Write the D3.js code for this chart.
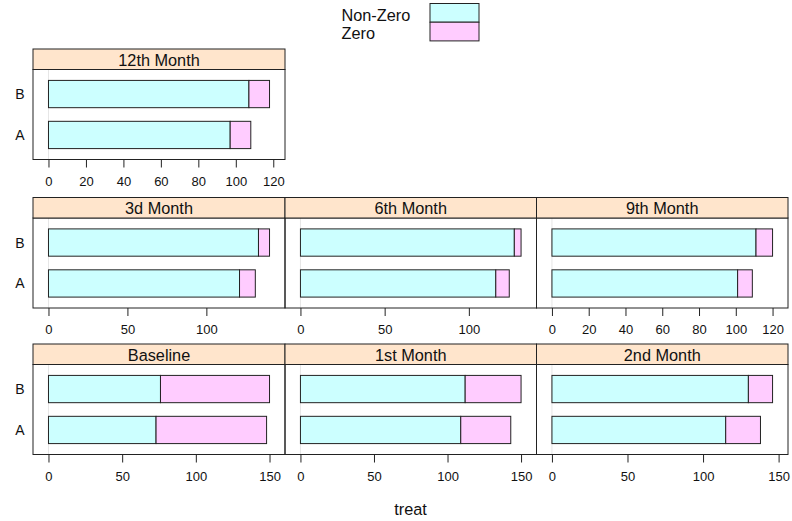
<!DOCTYPE html>
<html>
<head>
<meta charset="utf-8">
<script src="https://cdn.jsdelivr.net/npm/d3@7"></script>
<style>
  html, body { margin: 0; padding: 0; background: #fff; }
  svg { display: block; font-family: "Liberation Sans", Arial, sans-serif; }
</style>
</head>
<body>
<svg id="chart" width="792" height="521"></svg>
<script>
// Visit periods, one panel each
const periods = ["Baseline", "1st Month", "2nd Month", "3d Month", "6th Month", "9th Month", "12th Month"];
const groups = ["A", "B"];
const series = ["Non-Zero", "Zero"];

// Counts per period for each treatment group
const nonZeroA = [73, 109, 115, 121, 116, 101, 97];
const zeroA    = [75, 34, 23, 10, 8, 8, 11];
const nonZeroB = [76, 112, 130, 133, 127, 111, 107];
const zeroB    = [74, 38, 16, 7, 4, 9, 11];

// Axis tick labels per panel (free x scales)
const tickSets = [
  [0, 50, 100, 150],
  [0, 50, 100, 150],
  [0, 50, 100, 150],
  [0, 50, 100],
  [0, 50, 100],
  [0, 20, 40, 60, 80, 100, 120],
  [0, 20, 40, 60, 80, 100, 120]
];

const fills = ["#CCFFFF", "#FFCCFF"];
const stripFill = "#FFE5CC";

const svg = d3.select("#chart");

// Panel grid: column x ranges, row tops (strip top)
const colX = [[33, 285], [285, 536.5], [536.5, 788]];
const rowTop = [49, 197.5, 344];
const stripH = 20.5, panelH = 90;
// Panel placement: [row, col] for each period
const place = [[2, 0], [2, 1], [2, 2], [1, 0], [1, 1], [1, 2], [0, 0]];

periods.forEach((p, i) => {
  const [r, c] = place[i];
  const x0 = colX[c][0], x1 = colX[c][1];
  const sTop = rowTop[r];
  const pTop = sTop + stripH;
  const pBot = pTop + panelH;

  const rows = [
    { g: "A", nz: nonZeroA[i], z: zeroA[i] },
    { g: "B", nz: nonZeroB[i], z: zeroB[i] }
  ];
  const maxTot = d3.max(rows, d => d.nz + d.z);
  const pad = 0.07 * maxTot;
  const x = d3.scaleLinear().domain([-pad, maxTot + pad]).range([x0, x1]);
  const y = d3.scaleLinear().domain([0.4, 2.6]).range([pBot, pTop]);
  const bw = y(0) - y(2 / 3);

  const g = svg.append("g");

  // origin reference line
  g.append("line")
    .attr("x1", x(0)).attr("x2", x(0))
    .attr("y1", pTop).attr("y2", pBot)
    .attr("stroke", "#E6E6E6").attr("stroke-width", 1);

  // stacked bars
  rows.forEach((d, k) => {
    const yc = y(k + 1);
    const segs = [[0, d.nz], [d.nz, d.nz + d.z]];
    segs.forEach((s, j) => {
      g.append("rect")
        .attr("x", x(s[0])).attr("width", x(s[1]) - x(s[0]))
        .attr("y", yc - bw / 2).attr("height", bw)
        .attr("fill", fills[j])
        .attr("stroke", "#222").attr("stroke-width", 1);
    });
  });

  // panel frame
  g.append("rect")
    .attr("x", x0).attr("y", pTop).attr("width", x1 - x0).attr("height", panelH)
    .attr("fill", "none").attr("stroke", "#222").attr("stroke-width", 1);

  // strip
  g.append("rect")
    .attr("x", x0).attr("y", sTop).attr("width", x1 - x0).attr("height", stripH)
    .attr("fill", stripFill).attr("stroke", "#222").attr("stroke-width", 1);
  g.append("text")
    .attr("x", (x0 + x1) / 2).attr("y", sTop + stripH / 2 + 6.6)
    .attr("text-anchor", "middle").attr("font-size", 16.3).attr("fill", "#111")
    .text(p);

  // bottom axis
  const ax = g.append("g").attr("transform", `translate(0,${pBot})`)
    .call(d3.axisBottom(x).tickValues(tickSets[i]).tickSize(8).tickPadding(9).tickFormat(d3.format("d")));
  ax.select(".domain").remove();
  ax.selectAll(".tick line").attr("stroke", "#222");
  ax.selectAll(".tick text").attr("font-size", 13).attr("fill", "#111")
    .attr("font-family", "Liberation Sans, Arial, sans-serif");

  // left labels for first column
  if (c === 0) {
    groups.forEach((lab, k) => {
      g.append("text")
        .attr("x", 24.5).attr("y", y(k + 1) + 5)
        .attr("text-anchor", "end").attr("font-size", 14).attr("fill", "#111")
        .text(lab);
    });
  }
});

// x-axis title
svg.append("text")
  .attr("x", (colX[0][0] + colX[2][1]) / 2).attr("y", 515)
  .attr("text-anchor", "middle").attr("font-size", 16.3).attr("fill", "#111")
  .text("treat");

// legend
const legend = svg.append("g");
series.forEach((s, j) => {
  legend.append("text")
    .attr("x", 341.5).attr("y", 20.5 + j * 18.7)
    .attr("font-size", 16.3).attr("fill", "#111")
    .text(s);
  legend.append("rect")
    .attr("x", 430).attr("y", 3.5 + j * 18.7).attr("width", 49).attr("height", 18.7)
    .attr("fill", fills[j]).attr("stroke", "#222").attr("stroke-width", 1);
});
</script>
</body>
</html>
